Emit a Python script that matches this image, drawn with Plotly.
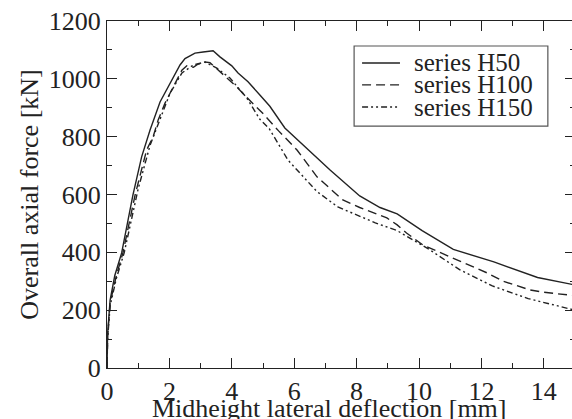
import plotly.graph_objects as go

# ---- data ----
h50_x = [0, 0.02, 0.1, 0.25, 0.47, 0.83, 1.11, 1.38, 1.7, 2.02, 2.34, 2.5, 2.82, 3.08, 3.4, 3.62,
         4.0, 4.2, 4.52, 4.9, 5.22, 5.7, 6.5, 7.15, 8.1, 8.75, 9.3, 10.1, 11.1, 12.4, 13.8, 15.0]
h50_y = [0, 120, 235, 320, 398, 598, 730, 823, 920, 985, 1048, 1070, 1089, 1093, 1097, 1076,
         1045, 1020, 990, 944, 905, 830, 750, 685, 595, 555, 533, 475, 410, 367, 313, 287]

h100_x = [0, 0.02, 0.1, 0.3, 0.51, 0.9, 1.27, 1.48, 1.64, 1.86, 2.02, 2.28, 2.4, 2.56, 2.77, 2.9,
          3.14, 3.3, 3.68, 4.16, 4.58, 5.0, 5.5, 6.09, 6.73, 7.56, 8.1, 8.97, 9.3, 9.6, 10.13,
          11.1, 12.2, 12.7, 13.2, 13.56, 14.0, 15.0]
h100_y = [0, 110, 225, 320, 398, 598, 754, 800, 858, 916, 950, 1006, 1030, 1045, 1040, 1050,
          1058, 1056, 1020, 972, 925, 880, 820, 754, 661, 581, 555, 519, 495, 467, 425,
          380, 328, 300, 281, 270, 262, 250]

h150_x = [0, 0.02, 0.1, 0.3, 0.55, 1.0, 1.38, 1.7, 2.02, 2.4, 2.77, 3.14, 3.52, 3.94, 4.48, 4.9,
          5.2, 5.8, 6.73, 7.4, 8.2, 8.6, 9.3, 10.3, 11.3, 12.35, 13.5, 14.9, 15.0]
h150_y = [0, 100, 215, 310, 398, 620, 770, 860, 950, 1020, 1048, 1058, 1037, 1003, 934, 860,
          828, 719, 610, 557, 520, 502, 475, 412, 340, 284, 240, 205, 200]

series_names = ["series H50", "series H100", "series H150"]
x_ticks = [0, 2, 4, 6, 8, 10, 12, 14]
y_ticks = [0, 200, 400, 600, 800, 1000, 1200]

FONT = "Liberation Serif"
INK = "#222222"
dashes = ["solid", "9px,5px", "6px,3px,2px,3px,2px,3px"]

fig = go.Figure()
for xs, ys, name, d in zip([h50_x, h100_x, h150_x], [h50_y, h100_y, h150_y], series_names, dashes):
    fig.add_trace(go.Scatter(x=xs, y=ys, mode="lines", name=name, showlegend=False,
                             line=dict(color=INK, width=1.4, dash=d)))

# ---- manual legend (box, samples, labels) in paper coordinates ----
box = dict(x0=0.528, x1=0.942, y0=0.697, y1=0.928)
fig.add_shape(type="rect", xref="paper", yref="paper", **box,
              line=dict(color="#555555", width=1.2), fillcolor="white", layer="above")
rows_y = [0.879, 0.816, 0.752]
for ry, name, d in zip(rows_y, series_names, dashes):
    fig.add_shape(type="line", xref="paper", yref="paper", x0=0.545, x1=0.626, y0=ry, y1=ry,
                  line=dict(color=INK, width=1.4, dash=d), layer="above")
    fig.add_annotation(xref="paper", yref="paper", x=0.652, y=ry, text=name, showarrow=False,
                       xanchor="left", yanchor="middle",
                       font=dict(family=FONT, size=25, color=INK))

# x-axis title placed as an annotation (centred like the reference)
fig.add_annotation(xref="paper", yref="paper", x=0.476, y=-0.068, yanchor="top",
                   text="Midheight lateral deflection [mm]", showarrow=False,
                   font=dict(family=FONT, size=26, color=INK))

axis_common = dict(showgrid=False, zeroline=False, showline=True, linecolor=INK, linewidth=1.2,
                   ticks="inside", tickcolor=INK, tickwidth=1.2, ticklen=10, automargin=False,
                   mirror="ticks", tickfont=dict(family=FONT, size=26, color=INK))

fig.update_layout(
    width=575, height=419,
    margin=dict(l=107, r=0, t=21, b=51),
    paper_bgcolor="white", plot_bgcolor="white",
    showlegend=False,
    xaxis=dict(range=[0, 15], tickvals=x_ticks,
               minor=dict(dtick=1, tick0=0, ticks="inside", ticklen=5, tickcolor=INK, tickwidth=1.2),
               **axis_common),
    yaxis=dict(range=[0, 1200], tickvals=y_ticks,
               minor=dict(dtick=100, tick0=0, ticks="inside", ticklen=5, tickcolor=INK, tickwidth=1.2),
               title=dict(text="Overall axial force [kN]", standoff=2,
                          font=dict(family=FONT, size=26, color=INK)),
               **axis_common),
)

fig.write_html("out.html",
               config={"displayModeBar": False},
               post_script="document.body.style.margin='0';document.body.style.overflow='hidden';"
                           "document.documentElement.style.overflow='hidden';")
